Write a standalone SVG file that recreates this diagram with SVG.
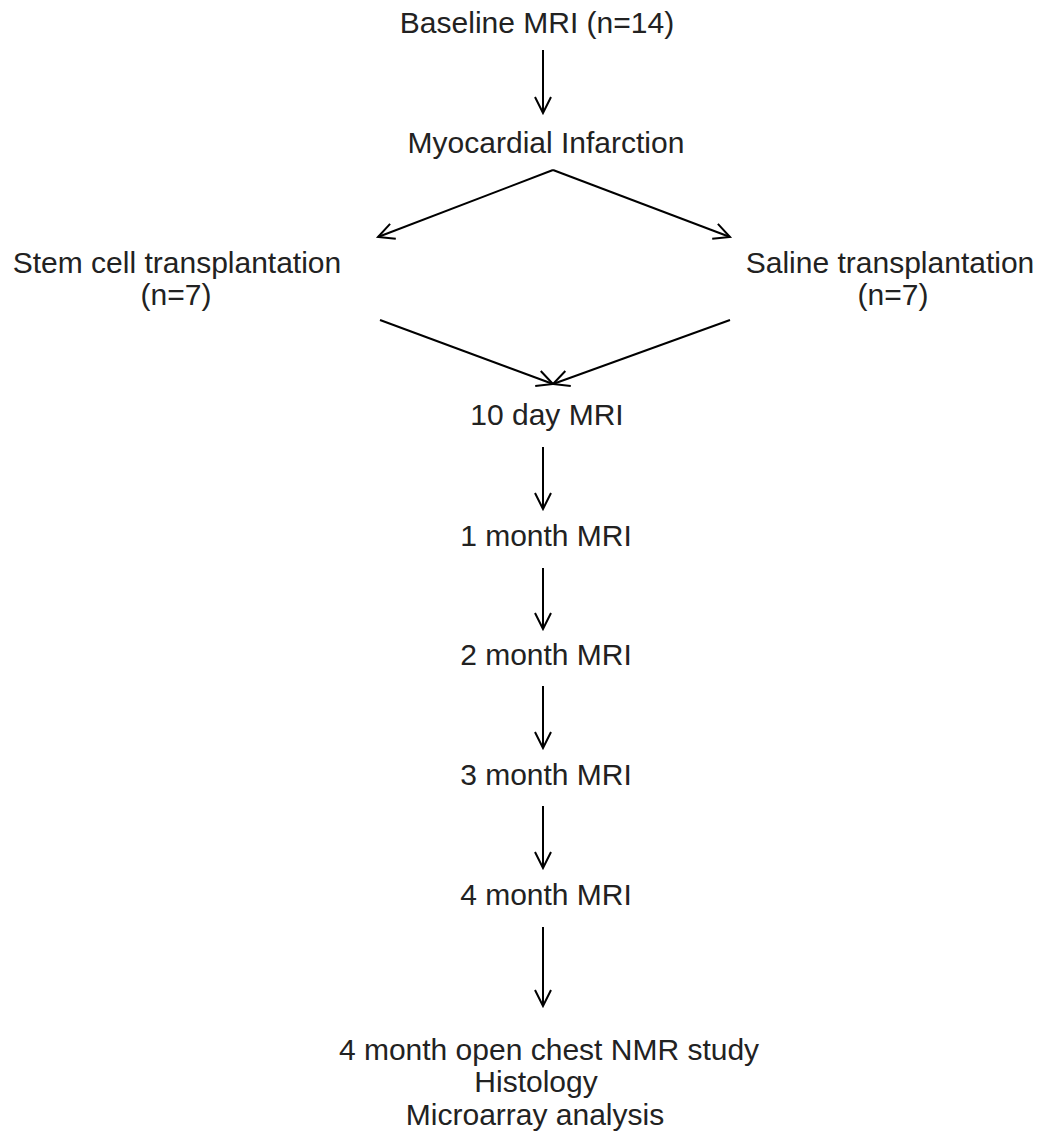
<svg xmlns="http://www.w3.org/2000/svg" width="1045" height="1135" viewBox="0 0 1045 1135">
<style>
text{font-family:"Liberation Sans",Arial,sans-serif;font-size:30px;fill:#222;text-anchor:middle}
.c line{stroke:#000;stroke-width:2;marker-end:url(#ah)}
</style>
<defs>
<marker id="ah" viewBox="0 0 20 20" refX="18" refY="10" markerWidth="20" markerHeight="20" markerUnits="userSpaceOnUse" orient="auto">
<path d="M2,2 L18,10 L2,18" fill="none" stroke="#000" stroke-width="2"/>
</marker>
</defs>
<rect width="1045" height="1135" fill="#fff"/>
<g id="baseline"><text x="537" y="33">Baseline MRI (n=14)</text></g>
<g id="mi"><text x="546" y="153">Myocardial Infarction</text></g>
<g id="stem"><text x="177" y="273">Stem cell transplantation</text><text x="176" y="305">(n=7)</text></g>
<g id="saline"><text x="890" y="273">Saline transplantation</text><text x="893" y="305">(n=7)</text></g>
<g id="d10"><text x="547" y="425">10 day MRI</text></g>
<g id="m1"><text x="546" y="546">1 month MRI</text></g>
<g id="m2"><text x="546" y="665">2 month MRI</text></g>
<g id="m3"><text x="546" y="785">3 month MRI</text></g>
<g id="m4"><text x="546" y="905">4 month MRI</text></g>
<g id="final"><text x="549" y="1060">4 month open chest NMR study</text><text x="536" y="1092">Histology</text><text x="535" y="1125">Microarray analysis</text></g>
<g class="c" id="connectors">
<line x1="543" y1="50" x2="543" y2="113"/>
<line x1="553" y1="170" x2="378" y2="237"/>
<line x1="553" y1="170" x2="730" y2="237"/>
<line x1="380" y1="320" x2="553" y2="384"/>
<line x1="730" y1="320" x2="553" y2="384"/>
<line x1="543" y1="447" x2="543" y2="509"/>
<line x1="543" y1="568" x2="543" y2="629"/>
<line x1="543" y1="686" x2="543" y2="748"/>
<line x1="543" y1="806" x2="543" y2="868"/>
<line x1="543" y1="927" x2="543" y2="1006"/>
</g>
</svg>
